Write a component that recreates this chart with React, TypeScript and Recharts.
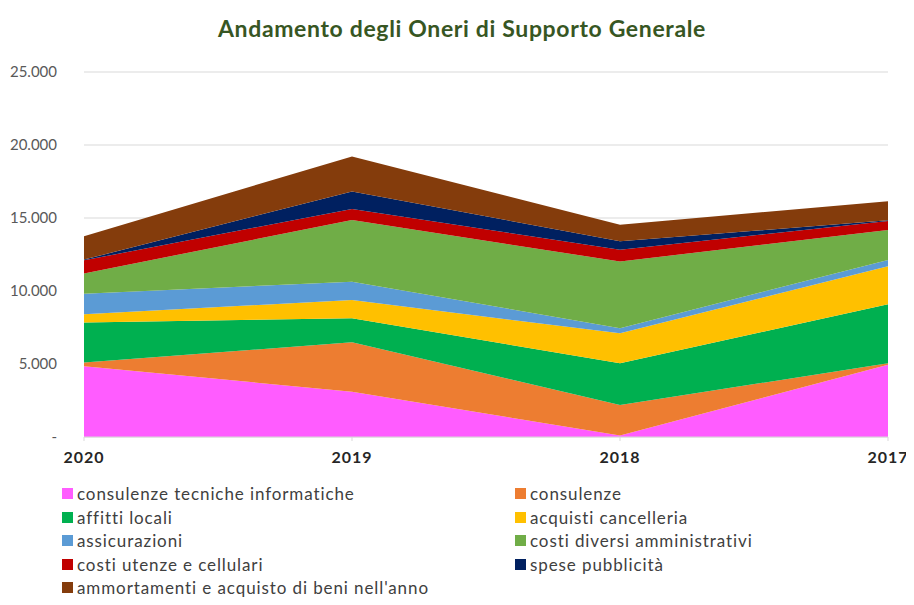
import { AreaChart, Area, XAxis, YAxis, CartesianGrid } from 'recharts';

const years = ['2020', '2019', '2018', '2017'];

const consulenzeTecniche = [4850, 3100, 100, 4950];
const consulenze = [250, 3390, 2090, 100];
const affittiLocali = [2740, 1640, 2860, 4050];
const acquistiCancelleria = [570, 1250, 2050, 2600];
const assicurazioni = [1400, 1260, 350, 420];
const costiDiversi = [1390, 4220, 4570, 2060];
const costiUtenze = [900, 760, 800, 620];
const spesePubblicita = [50, 1200, 580, 50];
const ammortamenti = [1600, 2400, 1140, 1300];

const yTicks = [0, 5000, 10000, 15000, 20000, 25000];

const series = [
  { key: 'ct', name: 'consulenze tecniche informatiche', values: consulenzeTecniche, color: '#FF5CFF' },
  { key: 'co', name: 'consulenze', values: consulenze, color: '#ED7D31' },
  { key: 'af', name: 'affitti locali', values: affittiLocali, color: '#00B050' },
  { key: 'ac', name: 'acquisti cancelleria', values: acquistiCancelleria, color: '#FFC000' },
  { key: 'as', name: 'assicurazioni', values: assicurazioni, color: '#5B9BD5' },
  { key: 'cd', name: 'costi diversi amministrativi', values: costiDiversi, color: '#70AD47' },
  { key: 'cu', name: 'costi utenze e cellulari', values: costiUtenze, color: '#C00000' },
  { key: 'sp', name: 'spese pubblicità', values: spesePubblicita, color: '#002060' },
  { key: 'am', name: "ammortamenti e acquisto di beni nell'anno", values: ammortamenti, color: '#843C0C' },
];

const data = years.map((year, i) => {
  const row: Record<string, string | number> = { year };
  series.forEach((s) => {
    row[s.key] = s.values[i];
  });
  return row;
});

const formatY = (v: number) => {
  if (v === 0) return '-';
  return String(v).replace(/\B(?=(\d{3})+(?!\d))/g, '.');
};

export default function App() {
  return (
    <div
      style={{
        position: 'relative',
        width: 914,
        height: 605,
        background: '#fff',
        overflow: 'hidden',
        margin: -8,
        borderTop: '3px solid #1DA354',
        borderLeft: '3px solid #1DA354',
        boxSizing: 'border-box',
      }}
    >
      <div
        style={{
          position: 'absolute',
          top: 11,
          left: -3,
          width: 924,
          textAlign: 'center',
          fontFamily: 'Lato, sans-serif',
          fontWeight: 700,
          fontSize: 23,
          letterSpacing: 0.65,
          color: '#375623',
        }}
      >
        Andamento degli Oneri di Supporto Generale
      </div>
      <div style={{ position: 'absolute', left: -3, top: -3 }}>
        <AreaChart
          width={914}
          height={605}
          data={data}
          margin={{ top: 72, right: 26, left: 0, bottom: 138 }}
        >
          <CartesianGrid vertical={false} stroke="#D9D9D9" />
          <XAxis
            dataKey="year"
            height={30}
            stroke="#D9D9D9"
            tickSize={4}
            tickMargin={11}
            tick={{ fill: '#262626', fontSize: 16, fontWeight: 700, letterSpacing: 1, fontFamily: 'Lato, sans-serif' }}
          />
          <YAxis
            width={84}
            domain={[0, 25000]}
            ticks={yTicks}
            tickFormatter={formatY}
            axisLine={false}
            tickLine={false}
            tickSize={0}
            tickMargin={27}
            tick={{ fill: '#595959', fontSize: 15, fontFamily: 'Lato, sans-serif' }}
          />
          {series.map((s) => (
            <Area
              key={s.key}
              type="linear"
              dataKey={s.key}
              name={s.name}
              stackId="1"
              stroke="none"
              fill={s.color}
              fillOpacity={1}
              isAnimationActive={false}
            />
          ))}
        </AreaChart>
      </div>
      <div
        style={{
          position: 'absolute',
          left: 59,
          top: 479,
          display: 'grid',
          gridTemplateColumns: '453px 380px',
          fontFamily: 'Lato, sans-serif',
          fontSize: 17,
          letterSpacing: 0.9,
          color: '#404040',
          lineHeight: '23.5px',
        }}
      >
        {series.map((s) => (
          <div key={s.key} style={{ display: 'flex', alignItems: 'center', whiteSpace: 'nowrap' }}>
            <span style={{ width: 11, height: 11, background: s.color, marginRight: 4, display: 'inline-block' }} />
            {s.name}
          </div>
        ))}
      </div>
    </div>
  );
}
